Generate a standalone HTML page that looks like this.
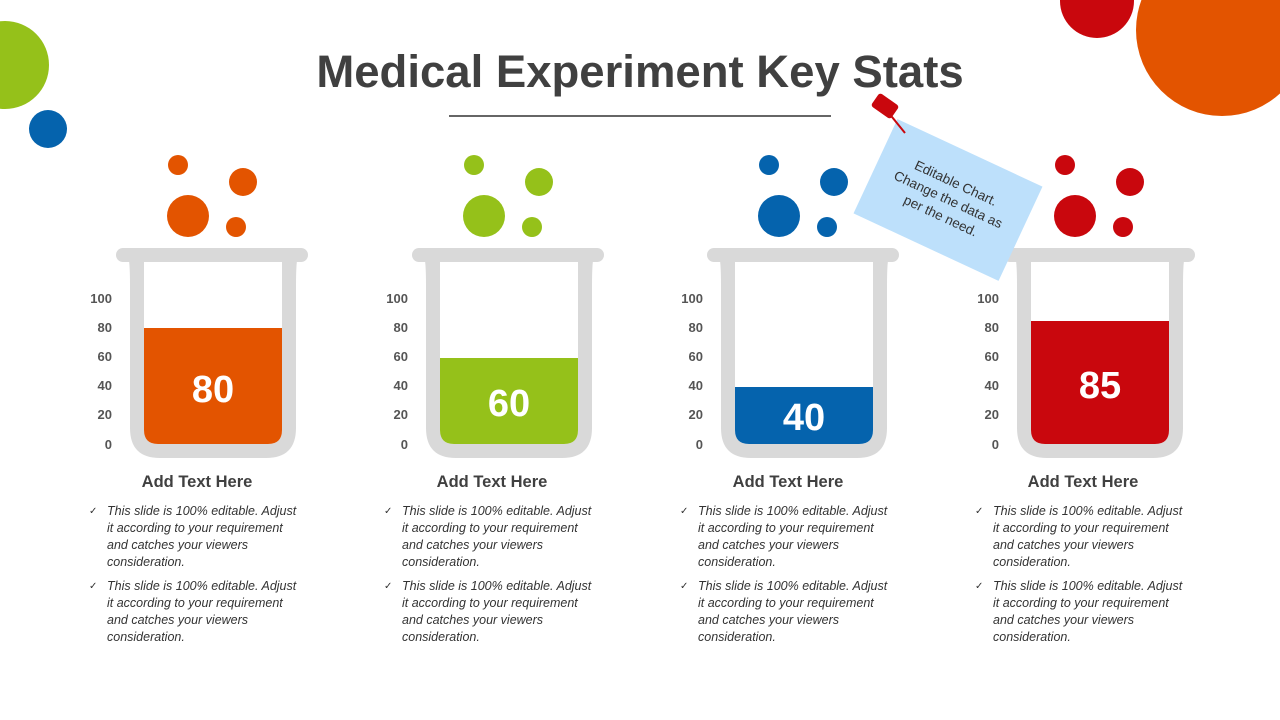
<!DOCTYPE html>
<html><head><meta charset="utf-8"><style>
body{margin:0;width:1280px;height:720px;overflow:hidden;background:#fff;font-family:"Liberation Sans",sans-serif;position:relative}
.t{position:absolute;left:0;width:1280px;top:46px;text-align:center;font-size:45.5px;font-weight:bold;color:#404040}
.h{position:absolute;width:240px;text-align:center;font-size:16.5px;font-weight:bold;color:#404040;top:473px}
.b{position:absolute;width:212px;font-size:12.5px;font-style:italic;color:#333;line-height:17px}
.b div{position:relative;padding-left:18px;margin-bottom:7px}
.b div:before{content:"✓";position:absolute;left:0;top:0;font-style:normal;font-size:10px}
</style></head><body>
<svg width="1280" height="720" style="position:absolute;left:0;top:0">
<defs>
<g id="beak">
<rect x="116" y="248" width="192" height="14" rx="7" fill="#d9d9d9"/>
<path d="M128 255 Q130 262 130 285 L130 428 Q130 458 160 458 L266 458 Q296 458 296 428 L296 285 Q296 262 298 255 Z" fill="#d9d9d9"/>
<path d="M144 262 L282 262 L282 430 Q282 444 268 444 L158 444 Q144 444 144 430 Z" fill="#fff"/>
<g font-family="Liberation Sans" font-weight="bold" font-size="13" fill="#555" text-anchor="end">
<text x="112" y="303">100</text><text x="112" y="332">80</text><text x="112" y="361">60</text><text x="112" y="390">40</text><text x="112" y="419">20</text><text x="112" y="449">0</text>
</g>
</g>
</defs>
<circle cx="5" cy="65" r="44" fill="#95c11a"/>
<circle cx="48" cy="129" r="19" fill="#0563ad"/>
<circle cx="1097" cy="1" r="37" fill="#c9070d"/>
<circle cx="1222" cy="30" r="86" fill="#e35400"/>
<line x1="449" y1="116" x2="831" y2="116" stroke="#333" stroke-width="1.5"/>
<g><use href="#beak"/>
<path d="M144 328 L282 328 L282 430 Q282 444 268 444 L158 444 Q144 444 144 430 Z" fill="#e35400"/>
<text x="213" y="402" font-family="Liberation Sans" font-weight="bold" font-size="38" fill="#fff" text-anchor="middle">80</text>
<g fill="#e35400"><circle cx="178" cy="165" r="10"/><circle cx="243" cy="182" r="14"/><circle cx="188" cy="216" r="21"/><circle cx="236" cy="227" r="10"/></g></g>
<g transform="translate(296,0)"><use href="#beak"/>
<path d="M144 358 L282 358 L282 430 Q282 444 268 444 L158 444 Q144 444 144 430 Z" fill="#95c11a"/>
<text x="213" y="416" font-family="Liberation Sans" font-weight="bold" font-size="38" fill="#fff" text-anchor="middle">60</text>
<g fill="#95c11a"><circle cx="178" cy="165" r="10"/><circle cx="243" cy="182" r="14"/><circle cx="188" cy="216" r="21"/><circle cx="236" cy="227" r="10"/></g></g>
<g transform="translate(591,0)"><use href="#beak"/>
<path d="M144 387 L282 387 L282 430 Q282 444 268 444 L158 444 Q144 444 144 430 Z" fill="#0563ad"/>
<text x="213" y="430" font-family="Liberation Sans" font-weight="bold" font-size="38" fill="#fff" text-anchor="middle">40</text>
<g fill="#0563ad"><circle cx="178" cy="165" r="10"/><circle cx="243" cy="182" r="14"/><circle cx="188" cy="216" r="21"/><circle cx="236" cy="227" r="10"/></g></g>
<g transform="translate(887,0)"><use href="#beak"/>
<path d="M144 321 L282 321 L282 430 Q282 444 268 444 L158 444 Q144 444 144 430 Z" fill="#c9070d"/>
<text x="213" y="398" font-family="Liberation Sans" font-weight="bold" font-size="38" fill="#fff" text-anchor="middle">85</text>
<g fill="#c9070d"><circle cx="178" cy="165" r="10"/><circle cx="243" cy="182" r="14"/><circle cx="188" cy="216" r="21"/><circle cx="236" cy="227" r="10"/></g></g>
<g transform="translate(948,200) rotate(25)">
<rect x="-80" y="-52" width="160" height="104" fill="#bde0fb"/>
<g font-family="Liberation Sans" font-size="13.5" fill="#333" text-anchor="middle">
<text y="-14">Editable Chart.</text><text y="4">Change the data as</text><text y="22">per the need.</text></g>
</g>
<line x1="888" y1="112" x2="905" y2="133" stroke="#c9070d" stroke-width="2"/>
<rect x="873" y="98" width="24" height="16" rx="3" fill="#c9070d" transform="rotate(35 885 106)"/>
</svg>
<div class="t">Medical Experiment Key Stats</div>
<div class="h" style="left:77px">Add Text Here</div>
<div class="h" style="left:372px">Add Text Here</div>
<div class="h" style="left:668px">Add Text Here</div>
<div class="h" style="left:963px">Add Text Here</div>
<div class="b" style="left:89px;top:503px"><div>This slide is 100% editable. Adjust it according to your requirement and catches your viewers consideration.</div><div>This slide is 100% editable. Adjust it according to your requirement and catches your viewers consideration.</div></div>
<div class="b" style="left:384px;top:503px"><div>This slide is 100% editable. Adjust it according to your requirement and catches your viewers consideration.</div><div>This slide is 100% editable. Adjust it according to your requirement and catches your viewers consideration.</div></div>
<div class="b" style="left:680px;top:503px"><div>This slide is 100% editable. Adjust it according to your requirement and catches your viewers consideration.</div><div>This slide is 100% editable. Adjust it according to your requirement and catches your viewers consideration.</div></div>
<div class="b" style="left:975px;top:503px"><div>This slide is 100% editable. Adjust it according to your requirement and catches your viewers consideration.</div><div>This slide is 100% editable. Adjust it according to your requirement and catches your viewers consideration.</div></div>
</body></html>
